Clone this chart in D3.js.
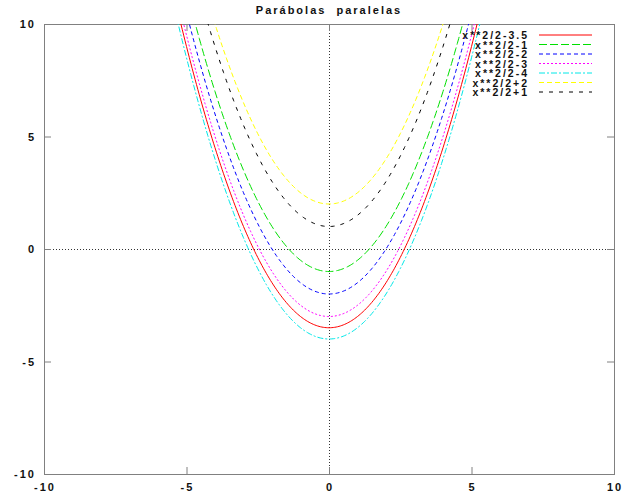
<!DOCTYPE html>
<html>
<head>
<meta charset="utf-8">
<script src="https://cdn.jsdelivr.net/npm/d3@7"></script>
<style>
  body { margin: 0; background: #fff; }
  text { font-family: "Liberation Sans", Arial, sans-serif; font-size: 11px; font-weight: bold; fill: #111; letter-spacing: 2px; }
</style>
</head>
<body>
<div id="chart"></div>
<script>
// offsets of each parabola x**2/2 + c, in legend order
var offsets = [-3.5, -1, -2, -3, -4, 2, 1]
var labels = ["x**2/2-3.5", "x**2/2-1", "x**2/2-2", "x**2/2-3", "x**2/2-4", "x**2/2+2", "x**2/2+1"]
var colors = ["#ff0000", "#00e000", "#0000ff", "#ff00ff", "#00e8e8", "#ffff00", "#000000"]
var dashes = ["none", "8,3", "4,3", "2,2", "6,2,2,2", "5,3", "4,6"]
var xTicks = [-10, -5, 0, 5, 10]
var yTicks = [-10, -5, 0, 5, 10]
var title = "Parábolas  paralelas"

var w = 624, h = 493
var pL = 44, pR = 614, pT = 24, pB = 474

var svg = d3.select("#chart").append("svg")
  .attr("width", w)
  .attr("height", h)

var x = d3.scaleLinear().domain([-10, 10]).range([pL, pR])
var y = d3.scaleLinear().domain([-10, 10]).range([pB, pT])

svg.append("defs").append("clipPath").attr("id", "clip")
  .append("rect")
  .attr("x", pL).attr("y", pT)
  .attr("width", pR - pL).attr("height", pB - pT)

// zero axes
svg.append("line")
  .attr("x1", x(0) + 0.5).attr("x2", x(0) + 0.5).attr("y1", pT).attr("y2", pB)
  .attr("stroke", "#333").attr("stroke-dasharray", "1,2")
svg.append("line")
  .attr("x1", pL).attr("x2", pR).attr("y1", y(0) + 0.5).attr("y2", y(0) + 0.5)
  .attr("stroke", "#333").attr("stroke-dasharray", "1,2")

// frame
svg.append("rect")
  .attr("x", pL + 0.5).attr("y", pT + 0.5)
  .attr("width", pR - pL).attr("height", pB - pT)
  .attr("fill", "none").attr("stroke", "#808080")

// ticks (mirrored like gnuplot)
var tl = 7
xTicks.forEach(function(t) {
  svg.append("line").attr("x1", x(t) + 0.5).attr("x2", x(t) + 0.5)
    .attr("y1", pB).attr("y2", pB - tl).attr("stroke", "#808080")
  svg.append("line").attr("x1", x(t) + 0.5).attr("x2", x(t) + 0.5)
    .attr("y1", pT).attr("y2", pT + tl).attr("stroke", "#808080")
  svg.append("text").attr("x", x(t) + 1).attr("y", pB + 17)
    .attr("text-anchor", "middle").text(t)
})
yTicks.forEach(function(t) {
  svg.append("line").attr("x1", pL).attr("x2", pL + tl)
    .attr("y1", y(t) + 0.5).attr("y2", y(t) + 0.5).attr("stroke", "#808080")
  svg.append("line").attr("x1", pR).attr("x2", pR - tl)
    .attr("y1", y(t) + 0.5).attr("y2", y(t) + 0.5).attr("stroke", "#808080")
  svg.append("text").attr("x", 36).attr("y", y(t) + 4)
    .attr("text-anchor", "end").text(t)
})

// the curves
var xs = d3.range(-10, 10.001, 0.05)
var line = d3.line()
  .x(function(d) { return x(d[0]) })
  .y(function(d) { return y(d[1]) })

var g = svg.append("g").attr("clip-path", "url(#clip)")
offsets.forEach(function(c, i) {
  var pts = xs.map(function(v) { return [v, v * v / 2 + c] })
    .filter(function(p) { return p[1] < 12 })
  g.append("path")
    .attr("d", line(pts))
    .attr("fill", "none")
    .attr("stroke", colors[i])
    .attr("stroke-width", 1)
    .attr("stroke-dasharray", dashes[i])
})

// legend
labels.forEach(function(lab, i) {
  var ly = 35 + i * 9.5
  svg.append("text").attr("x", 529).attr("y", ly + 4)
    .attr("text-anchor", "end").style("font-size", "10.5px").text(lab)
  svg.append("line").attr("x1", 539).attr("x2", 592)
    .attr("y1", ly).attr("y2", ly)
    .attr("stroke", colors[i]).attr("stroke-dasharray", dashes[i])
})

svg.append("text").attr("x", 329).attr("y", 14)
  .attr("text-anchor", "middle").style("white-space", "pre")
  .text(title)
</script>
</body>
</html>
